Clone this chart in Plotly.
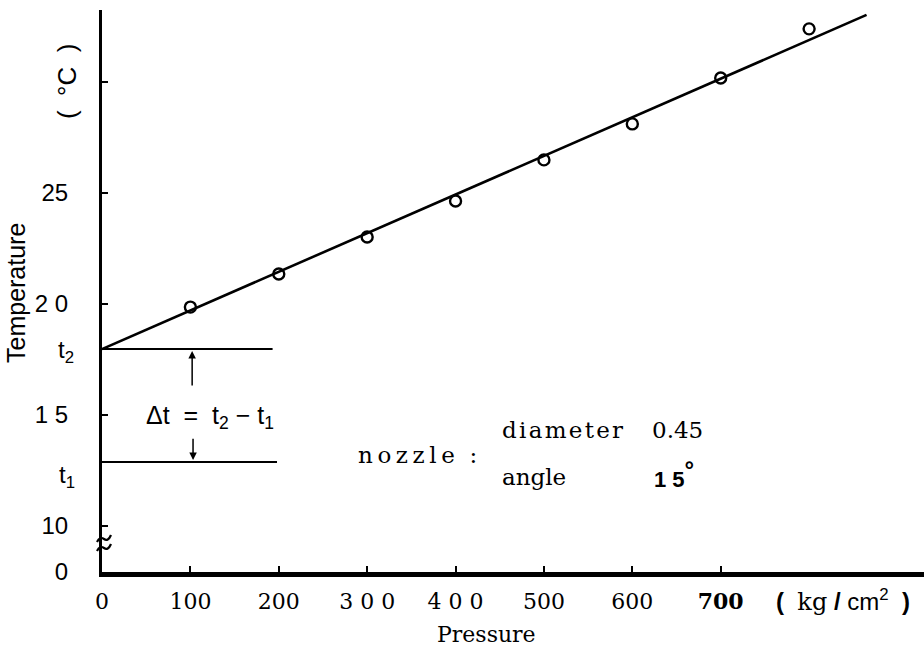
import plotly.graph_objects as go

# ---- data ----
pressure = [100, 200, 300, 400, 500, 600, 700, 800]
temperature = [19.86, 21.35, 23.02, 24.64, 26.49, 28.11, 30.18, 32.39]
fit_x = [0, 865]
fit_y = [17.97, 33.02]
t2 = 17.97
t1 = 12.88
x_tickvals = [0, 100, 200, 300, 400, 500, 600, 700]
x_ticktext = ["0", "100", "200", "3 0 0", "4 0 0", "500", "600", "<b>700</b>"]
y_zero_pos = 7.93
y_tickvals = [y_zero_pos, 10, 15, 20, 25, 30]
y_ticktext = ["0", "10", "1 5", "2 0", "25", ""]

W, H = 924, 646
L, R, T, B = 102, 0, 10, 74
PW, PH = W - L - R, H - T - B

def px(x):
    return (x - L) / PW

def py(y):
    return (H - B - y) / PH

SERIF = "DejaVu Serif"
SANS = "Liberation Sans"
HS = "\u200a"   # hair space for letter spacing
TS = "\u2009"   # thin space

def spaced(word, sep=HS):
    return sep.join(word)

fig = go.Figure()
fig.add_trace(go.Scatter(x=fit_x, y=fit_y, mode="lines",
                         line=dict(color="black", width=2.6), showlegend=False))
fig.add_trace(go.Scatter(x=pressure, y=temperature, mode="markers",
                         marker=dict(symbol="circle-open", size=11, color="black",
                                     line=dict(width=2.4, color="black")),
                         showlegend=False))

shapes = [
    dict(type="line", xref="x", yref="y", x0=0, x1=193, y0=t2, y1=t2,
         line=dict(color="black", width=2)),
    dict(type="line", xref="x", yref="y", x0=0, x1=198, y0=t1, y1=t1,
         line=dict(color="black", width=2)),
    # axis break marks
    dict(type="path", xref="paper", yref="paper",
         path=f"M {px(97)},{py(542)} Q {px(100)},{py(536)} {px(104)},{py(539)} T {px(111)},{py(535)}",
         line=dict(color="black", width=2.2)),
    dict(type="path", xref="paper", yref="paper",
         path=f"M {px(97)},{py(551)} Q {px(100)},{py(545)} {px(104)},{py(548)} T {px(111)},{py(544)}",
         line=dict(color="black", width=2.2)),
]

ann = []
def text(x, y, s, font, size, xanchor="center", angle=0):
    ann.append(dict(x=px(x), y=py(y), xref="paper", yref="paper", text=s,
                    showarrow=False, xanchor=xanchor, yanchor="middle",
                    textangle=angle,
                    font=dict(family=font, size=size, color="black")))

text(16, 293, "Temperature", SANS, 25, angle=-90)
text(67, 82, "(  °C  )", SANS, 26, angle=-90)
text(66, 351, "t<sub>2</sub>", SANS, 24)
text(67, 477, "t<sub>1</sub>", SANS, 24)
text(210, 417, "Δt  =  t<sub>2</sub> − t<sub>1</sub>", SANS, 25)
text(417, 455, spaced("nozzle", TS) + "  :", SERIF, 23)
text(500, 430, spaced("diameter"), SERIF, 23, xanchor="left")
text(650, 430, "0.45", SERIF, 23, xanchor="left")
text(500, 477, "angle", SERIF, 23, xanchor="left")
text(652, 474, "<b>1 5<sup><span style='font-size:24px'>°</span></sup></b>", SANS, 22,
     xanchor="left")
text(486, 634, "Pressure", SERIF, 22)
text(843, 600,
     "<b>(</b>  <span style='font-family:DejaVu Serif'>kg</span> <b>/</b> cm<sup>2</sup>  <b>)</b>",
     SANS, 24)

# arrows to t2 and t1
ann.append(dict(x=102, y=t2, xref="x", yref="y", ax=102, ay=16.26, axref="x", ayref="y",
                text="", showarrow=True, arrowhead=2, arrowsize=1, arrowwidth=1.5,
                arrowcolor="black", standoff=2))
ann.append(dict(x=103, y=t1, xref="x", yref="y", ax=103, ay=14.0, axref="x", ayref="y",
                text="", showarrow=True, arrowhead=2, arrowsize=1, arrowwidth=1.5,
                arrowcolor="black", standoff=2))

fig.update_layout(
    width=W, height=H,
    margin=dict(l=L, r=R, t=T, b=B),
    paper_bgcolor="white", plot_bgcolor="white",
    shapes=shapes, annotations=ann,
    xaxis=dict(range=[0, 930], showgrid=False, zeroline=False,
               showline=True, linecolor="black", linewidth=5,
               tickmode="array", tickvals=x_tickvals, ticktext=x_ticktext,
               ticks="inside", ticklen=6, tickwidth=2, tickcolor="black",
               ticklabelstandoff=6,
               tickfont=dict(family=SERIF, size=22, color="black")),
    yaxis=dict(range=[y_zero_pos, 33.24], showgrid=False, zeroline=False,
               showline=True, linecolor="black", linewidth=3,
               tickmode="array", tickvals=y_tickvals, ticktext=y_ticktext,
               ticks="inside", ticklen=6, tickwidth=2, tickcolor="black",
               ticklabelstandoff=26,
               tickfont=dict(family=SANS, size=24, color="black")),
)

fig.write_html("out.html")
